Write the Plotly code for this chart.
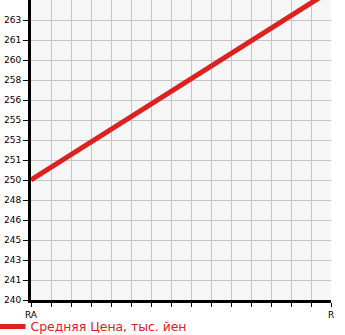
import numpy as np
import plotly.graph_objects as go

categories = ["RA", "R"]
avg_price = [250.0, 265.8]
series_name = "Средняя Цена, тыс. йен"

y_min, y_max, n_div = 240.0, 265.0, 15
y_tickvals = list(np.linspace(y_min, y_max, n_div + 1)[:-1])
y_ticktext = [str(int(np.floor(v + 1e-9))) for v in y_tickvals]

x_pos = list(np.linspace(0, 1, len(categories)))

fig = go.Figure()
fig.add_trace(go.Scatter(
    x=x_pos, y=avg_price, mode="lines", name=series_name,
    line=dict(color="#dd2020", width=5), cliponaxis=True,
))

fig.update_layout(
    width=345, height=335,
    margin=dict(l=31, r=14, t=0, b=35, autoexpand=False),
    paper_bgcolor="white", plot_bgcolor="#f6f6f6",
    font=dict(family="DejaVu Sans", size=9, color="black"),
    showlegend=True,
    legend=dict(x=-0.135, y=-0.09, xanchor="left", yanchor="middle",
                orientation="h", font=dict(size=12.4, color="#dd2020"),
                bgcolor="rgba(0,0,0,0)", itemwidth=30),
)
fig.update_xaxes(
    range=[0, 1], tickvals=x_pos, ticktext=categories,
    showgrid=False, zeroline=False, automargin=False,
    showline=True, linecolor="black", linewidth=3,
    ticks="outside", ticklen=4, tickcolor="black",
    minor=dict(dtick=1 / n_div, showgrid=True, gridcolor="#c4c4c4", gridwidth=1,
               ticks="outside", ticklen=4, tickcolor="black"),
    fixedrange=True,
)
fig.update_yaxes(
    range=[y_min, y_max], tickvals=y_tickvals, ticktext=y_ticktext,
    showgrid=True, gridcolor="#c4c4c4", gridwidth=1, zeroline=False, automargin=False,
    showline=True, linecolor="black", linewidth=3,
    ticks="outside", ticklen=5, tickcolor="black",
    fixedrange=True,
)

fig.write_html("out.html")
